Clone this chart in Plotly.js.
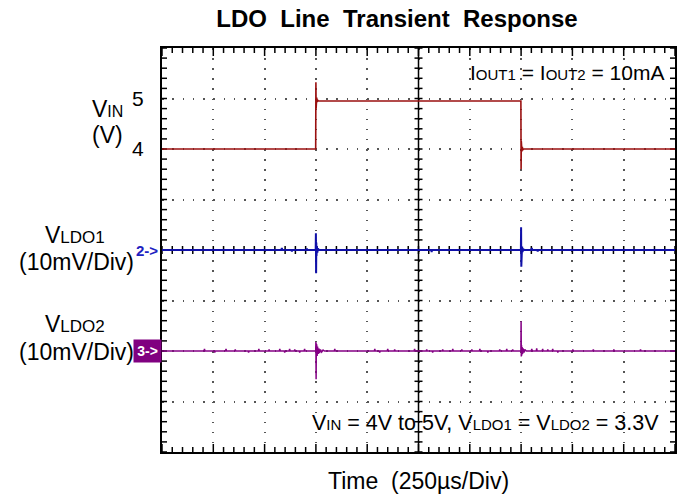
<!DOCTYPE html>
<html>
<head>
<meta charset="utf-8">
<script src="https://cdn.plot.ly/plotly-3.0.1.min.js"></script>
<style>html,body{margin:0;padding:0;background:#fff;}#chart{width:687px;height:497px;}</style>
</head>
<body>
<div id="chart"></div>
<script>
// ---- Data (time in µs, 250 µs/div) ----
const timeRange = [0, 2500];
// V_IN (V)
const vinTime = [0, 749, 750, 751, 752, 753, 754, 756, 758, 762, 1749, 1750, 1751, 1752, 1753, 1754, 1756, 1758, 1762, 2500];
const vinVolts = [4.00, 4.00, 5.32, 4.80, 5.10, 4.88, 5.02, 4.93, 4.97, 4.95, 4.95, 3.60, 4.15, 3.92, 4.10, 3.95, 4.04, 3.98, 4.00, 4.00];
// V_LDO1 deviation (mV, 10 mV/div)
const ldo1Time = [0, 582, 584, 586, 631, 633, 635, 704, 706, 708, 749, 750, 751, 752, 753, 755, 757, 760, 765, 1312, 1314, 1316, 1749, 1750, 1751, 1752, 1753, 1755, 1757, 1760, 1765, 1800, 1802, 1804, 1829, 1831, 1833, 2500];
const ldo1mV = [0, 0, 0.4, 0, 0, -0.3, 0, 0, 0.3, 0, 0, 3.3, -4.6, 1.5, -1.2, 0.8, -0.5, 0.3, 0, 0, -0.4, 0, 0, 4.5, -3.3, 1.8, -1.0, 0.7, -0.4, 0.2, 0, 0, 0.4, 0, 0, -0.3, 0, 0];
// V_LDO2 deviation (mV, 10 mV/div)
const ldo2Time = [0, 205, 207, 209, 255, 257, 259, 310, 312, 314, 355, 357, 359, 420, 422, 424, 470, 472, 474, 520, 522, 524, 572, 574, 576, 596, 598, 600, 620, 622, 624, 645, 647, 649, 669, 671, 673, 693, 695, 697, 749, 750, 751, 752, 753, 754, 756, 758, 761, 764, 768, 772, 778, 785, 792, 840, 842, 844, 1035, 1037, 1039, 1059, 1061, 1063, 1098, 1100, 1102, 1132, 1134, 1136, 1229, 1231, 1233, 1288, 1290, 1292, 1317, 1319, 1321, 1366, 1368, 1370, 1415, 1417, 1419, 1459, 1461, 1463, 1508, 1510, 1512, 1547, 1549, 1551, 1586, 1588, 1590, 1644, 1646, 1648, 1678, 1680, 1682, 1707, 1709, 1711, 1749, 1750, 1751, 1752, 1753, 1755, 1757, 1760, 1764, 1768, 1775, 1800, 1802, 1804, 1824, 1826, 1828, 1853, 1855, 1857, 1878, 1880, 1882, 1902, 1904, 1906, 1927, 1929, 1931, 2000, 2002, 2004, 2100, 2102, 2104, 2200, 2202, 2204, 2330, 2332, 2334, 2500];
const ldo2mV = [0, 0, 0.4, 0, 0, -0.3, 0, 0, 0.4, 0, 0, 0.3, 0, 0, -0.3, 0, 0, 0.4, 0, 0, 0.3, 0, 0, 0.4, 0, 0, -0.3, 0, 0, 0.4, 0, 0, 0.3, 0, 0, -0.3, 0, 0, 0.4, 0, 0, 1.8, -5.6, 1.4, -1.3, 1.2, -1.0, 0.9, -0.6, 0.5, -0.4, 0.3, -0.2, 0.2, 0, 0, 0.4, 0, 0, 0.4, 0, 0, -0.3, 0, 0, 0.4, 0, 0, 0.3, 0, 0, 0.4, 0, 0, 0.3, 0, 0, -0.3, 0, 0, 0.3, 0, 0, 0.4, 0, 0, 0.3, 0, 0, 0.3, 0, 0, 0.4, 0, 0, -0.3, 0, 0, 0.3, 0, 0, 0.4, 0, 0, 0.3, 0, 0, 5.9, -1.1, 1.2, -0.9, 0.8, -0.6, 0.5, -0.3, 0.3, 0, 0, 0.4, 0, 0, 0.5, 0, 0, 0.4, 0, 0, 0.3, 0, 0, 0.4, 0, 0, -0.3, 0, 0, 0.3, 0, 0, 0.3, 0, 0, 0.3, 0, 0, 0.3, 0, 0];
// Axis ranges (8 vertical divisions, 10 horizontal divisions)
const vinRange = [-2, 6];
const ldo1Range = [-40, 40];
const ldo2Range = [-20, 60];
const vinTickVals = [-2, -1, 0, 1, 2, 3, 4, 5, 6];
const vinTickText = ['', '', '', '', '', '', '4', '5', ''];
const timeDiv = 250, vinDiv = 1, subDivs = 5;

// ---- Layout helpers ----
const W = 687, H = 497, L = 162, R = 12, T = 48, B = 45;
const PW = W - L - R, PH = H - T - B;
const px = x => (x - L) / PW;
const py = y => (H - B - y) / PH;
const FONT = 'Liberation Sans, Arial, sans-serif';

// ---- Scope graticule (frame ticks + centre crosshair), built from the division settings ----
const tPerPx = (timeRange[1] - timeRange[0]) / PW;
const vPerPx = (vinRange[1] - vinRange[0]) / PH;
const tMid = (timeRange[0] + timeRange[1]) / 2, vMid = (vinRange[0] + vinRange[1]) / 2;
const gx = [], gy = [];
function seg(x0, y0, x1, y1) { gx.push(x0, x1, null); gy.push(y0, y1, null); }
const tStep = timeDiv / subDivs, vStep = vinDiv / subDivs;
const nT = Math.round((timeRange[1] - timeRange[0]) / tStep);
const nV = Math.round((vinRange[1] - vinRange[0]) / vStep);
for (let i = 0; i <= nT; i++) {
  const t = timeRange[0] + i * tStep;
  const len = (i % subDivs === 0 ? 8 : 5) * vPerPx;
  seg(t, vinRange[0], t, vinRange[0] + len);
  seg(t, vinRange[1], t, vinRange[1] - len);
  seg(t, vMid - 4 * vPerPx, t, vMid + 4 * vPerPx);
}
for (let j = 0; j <= nV; j++) {
  const v = vinRange[0] + j * vStep;
  const len = 5 * tPerPx;
  seg(timeRange[0], v, timeRange[0] + len, v);
  seg(timeRange[1], v, timeRange[1] - len, v);
  seg(tMid - 4 * tPerPx, v, tMid + 4 * tPerPx, v);
}
seg(timeRange[0], vMid, timeRange[1], vMid);
seg(tMid, vinRange[0], tMid, vinRange[1]);

const traces = [
  {x: gx, y: gy, xaxis: 'x', yaxis: 'y', mode: 'lines', connectgaps: false, line: {color: '#000', width: 1.5, simplify: false}, hoverinfo: 'skip', showlegend: false},
  {x: vinTime, y: vinVolts, xaxis: 'x', yaxis: 'y', mode: 'lines', line: {color: '#9a1010', width: 1.6}, hoverinfo: 'skip'},
  {x: ldo1Time, y: ldo1mV, xaxis: 'x', yaxis: 'y2', mode: 'lines', line: {color: '#1010a8', width: 2}, hoverinfo: 'skip'},
  {x: ldo2Time, y: ldo2mV, xaxis: 'x', yaxis: 'y3', mode: 'lines', line: {color: '#850085', width: 1.5}, hoverinfo: 'skip'}
];

const hiddenY = {overlaying: 'y', anchor: 'x', visible: false, showgrid: false, zeroline: false, fixedrange: true};

const layout = {
  width: W, height: H,
  margin: {l: L, r: R, t: T, b: B, pad: 0},
  paper_bgcolor: '#fff', plot_bgcolor: '#fff',
  showlegend: false,
  hovermode: false,
  font: {family: FONT, color: '#000'},
  title: {
    text: 'LDO\u00a0 Line\u00a0 Transient\u00a0 Response',
    font: {family: FONT, size: 24, color: '#000', weight: 'bold'},
    x: 397 / W, xref: 'container', xanchor: 'center',
    y: 1 - 19 / H, yref: 'container', yanchor: 'middle'
  },
  xaxis: {
    range: timeRange, dtick: timeDiv, tick0: 0,
    showgrid: true, gridcolor: '#555', gridwidth: 1.5, griddash: '1.5px,8.6px',
    zeroline: false, showline: true, linecolor: '#000', linewidth: 2, mirror: true,
    ticks: '', showticklabels: false, fixedrange: true,
    title: {text: 'Time\u00a0 (250\u00b5s/Div)', font: {family: FONT, size: 23, color: '#000'}, standoff: 20}
  },
  yaxis: {
    range: vinRange, tickmode: 'array', tickvals: vinTickVals, ticktext: vinTickText,
    showgrid: true, gridcolor: '#555', gridwidth: 1.5, griddash: '1.5px,8.76px',
    zeroline: false, showline: true, linecolor: '#000', linewidth: 2, mirror: true,
    ticks: '', tickfont: {family: FONT, size: 21, color: '#000'}, ticklabelstandoff: 12,
    fixedrange: true
  },
  yaxis2: Object.assign({}, hiddenY, {range: ldo1Range}),
  yaxis3: Object.assign({}, hiddenY, {range: ldo2Range}),
  annotations: [
    {xref: 'paper', yref: 'paper', x: px(107), y: py(109), xanchor: 'center', yanchor: 'middle', showarrow: false,
     text: "V<span style='font-size:16px'>IN</span>", font: {family: FONT, size: 23, color: '#000'}},
    {xref: 'paper', yref: 'paper', x: px(107), y: py(135), xanchor: 'center', yanchor: 'middle', showarrow: false,
     text: '(V)', font: {family: FONT, size: 23, color: '#000'}},
    {xref: 'paper', yref: 'paper', x: px(75), y: py(235), xanchor: 'center', yanchor: 'middle', showarrow: false,
     text: "V<span style='font-size:17px'>LDO1</span>", font: {family: FONT, size: 23, color: '#000'}},
    {xref: 'paper', yref: 'paper', x: px(76), y: py(262), xanchor: 'center', yanchor: 'middle', showarrow: false,
     text: '(10mV/Div)', font: {family: FONT, size: 23, color: '#000'}},
    {xref: 'paper', yref: 'paper', x: px(75), y: py(324), xanchor: 'center', yanchor: 'middle', showarrow: false,
     text: "V<span style='font-size:17px'>LDO2</span>", font: {family: FONT, size: 23, color: '#000'}},
    {xref: 'paper', yref: 'paper', x: px(76), y: py(352), xanchor: 'center', yanchor: 'middle', showarrow: false,
     text: '(10mV/Div)', font: {family: FONT, size: 23, color: '#000'}},
    {xref: 'paper', yref: 'y2', x: px(160), y: 0, xanchor: 'right', yanchor: 'middle', showarrow: false,
     text: '2->', font: {family: FONT, size: 15, color: '#2020c0', weight: 'bold'}},
    {xref: 'paper', yref: 'y3', x: 0, y: 0, xanchor: 'right', yanchor: 'middle', showarrow: false,
     text: '3->', font: {family: FONT, size: 14, color: '#fff', weight: 'bold'}, bgcolor: '#800080', borderpad: 3, width: 21},
    {xref: 'paper', yref: 'paper', x: px(666), y: py(72), xanchor: 'right', yanchor: 'middle', showarrow: false,
     text: "I<span style='font-size:15px'>OUT1</span> = I<span style='font-size:15px'>OUT2</span> = 10mA", font: {family: FONT, size: 21, color: '#000'}},
    {xref: 'paper', yref: 'paper', x: px(661), y: py(423), xanchor: 'right', yanchor: 'middle', showarrow: false,
     text: "V<span style='font-size:15px'>IN</span> = 4V to 5V, V<span style='font-size:15px'>LDO1</span> = V<span style='font-size:15px'>LDO2</span> = 3.3V", font: {family: FONT, size: 21.5, color: '#000'}}
  ]
};

Plotly.newPlot('chart', traces, layout, {displayModeBar: false, responsive: false});
</script>
</body>
</html>
